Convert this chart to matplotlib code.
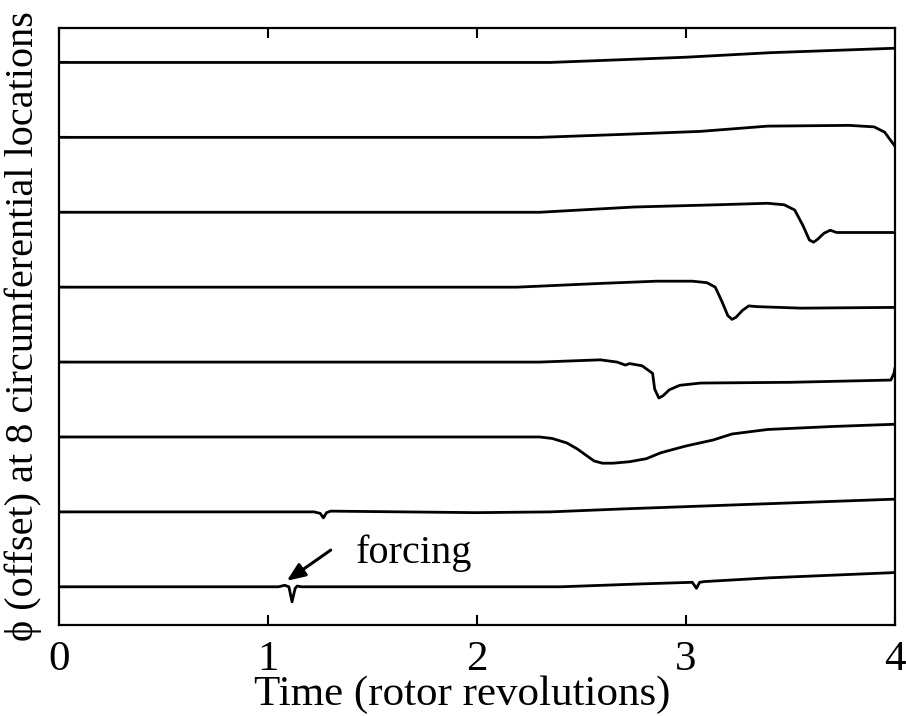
import matplotlib
import matplotlib.pyplot as plt
import numpy as np

plt.switch_backend('agg')

# traces, bottom (1) to top (8); offsets added when plotting
t1 = [0, 1.05, 1.08, 1.10, 1.115, 1.13, 1.14, 1.16, 2.0, 2.4, 2.8, 3.03, 3.05, 3.065, 3.09, 3.4, 4.0]
y1 = [0, 0, 0.02, 0.0, -0.20, -0.02, 0.01, 0, 0, 0, 0.04, 0.06, -0.02, 0.06, 0.07, 0.12, 0.19]

t2 = [0, 1.22, 1.25, 1.265, 1.28, 1.30, 2.0, 2.35, 2.7, 3.0, 3.5, 4.0]
y2 = [0, 0, -0.02, -0.08, -0.01, 0.01, -0.01, 0, 0.04, 0.07, 0.12, 0.17]

t3 = [0, 2.30, 2.36, 2.43, 2.48, 2.53, 2.56, 2.60, 2.65, 2.73, 2.81, 2.88, 3.00, 3.13, 3.22, 3.39, 3.7, 4.0]
y3 = [0, 0, -0.02, -0.08, -0.16, -0.26, -0.32, -0.35, -0.35, -0.33, -0.29, -0.21, -0.12, -0.04, 0.04, 0.10, 0.14, 0.17]

t4 = [0, 2.3, 2.59, 2.67, 2.71, 2.73, 2.79, 2.81, 2.84, 2.85, 2.87, 2.89, 2.92, 2.97, 3.07, 3.5, 3.98, 3.995, 4.0]
y4 = [0, 0, 0.03, 0.0, -0.04, -0.02, -0.05, -0.09, -0.15, -0.36, -0.48, -0.45, -0.37, -0.31, -0.28, -0.27, -0.24, -0.15, -0.07]

t5 = [0, 2.19, 2.59, 2.86, 3.03, 3.10, 3.14, 3.17, 3.20, 3.22, 3.24, 3.27, 3.30, 3.34, 3.55, 4.0]
y5 = [0, 0, 0.05, 0.08, 0.08, 0.06, 0.0, -0.18, -0.38, -0.43, -0.40, -0.31, -0.25, -0.26, -0.28, -0.27]

t6 = [0, 2.3, 2.75, 3.15, 3.39, 3.47, 3.52, 3.56, 3.59, 3.61, 3.63, 3.66, 3.69, 3.72, 4.0]
y6 = [0, 0, 0.07, 0.10, 0.12, 0.10, 0.03, -0.18, -0.37, -0.40, -0.36, -0.28, -0.24, -0.27, -0.27]

t7 = [0, 2.3, 2.7, 3.07, 3.39, 3.78, 3.9, 3.95, 4.0]
y7 = [0, 0, 0.04, 0.08, 0.15, 0.16, 0.14, 0.07, -0.12]

t8 = [0, 2.35, 3.0, 3.4, 4.0]
y8 = [0, 0, 0.07, 0.13, 0.19]

traces = [(t1, y1), (t2, y2), (t3, y3), (t4, y4), (t5, y5), (t6, y6), (t7, y7), (t8, y8)]
offsets = [1, 2, 3, 4, 5, 6, 7, 8]
xticks = [0, 1, 2, 3, 4]

plt.rcParams['font.family'] = ['Liberation Serif', 'DejaVu Serif']

fig = plt.figure(figsize=(9.06, 7.16), dpi=100)
ax = fig.add_axes([0.0651, 0.1271, 0.9228, 0.8338])

for (t, y), off in zip(traces, offsets):
    ax.plot(t, np.array(y) + off, color='black', lw=2.0,
            solid_joinstyle='round', solid_capstyle='butt')

ax.set_xlim(0, 4)
ax.set_ylim(0.49, 8.46)
ax.set_xticks(xticks)
ax.set_yticks(offsets)
ax.set_yticklabels([])
ax.tick_params(direction='in', length=7, width=1.5, top=True, right=False,
               labelsize=31, pad=11)
for s in ax.spines.values():
    s.set_linewidth(1.6)

ax.set_xlabel('Time (rotor revolutions)', fontsize=31)
ax.xaxis.set_label_coords(0.482, -0.085)
ax.set_ylabel('\u03d5 (offset) at 8 circumferential locations', fontsize=29)
ax.yaxis.set_label_coords(-0.02, 0.5)

ax.annotate('', xy=(1.09, 1.08), xytext=(1.30, 1.49),
            arrowprops=dict(arrowstyle='-|>,head_length=1.1,head_width=0.45',
                            color='black', lw=2.2, shrinkA=0, shrinkB=0))
ax.text(1.42, 1.45, 'forcing', fontsize=29, va='center', ha='left')

fig.savefig('out.png', dpi=100)
